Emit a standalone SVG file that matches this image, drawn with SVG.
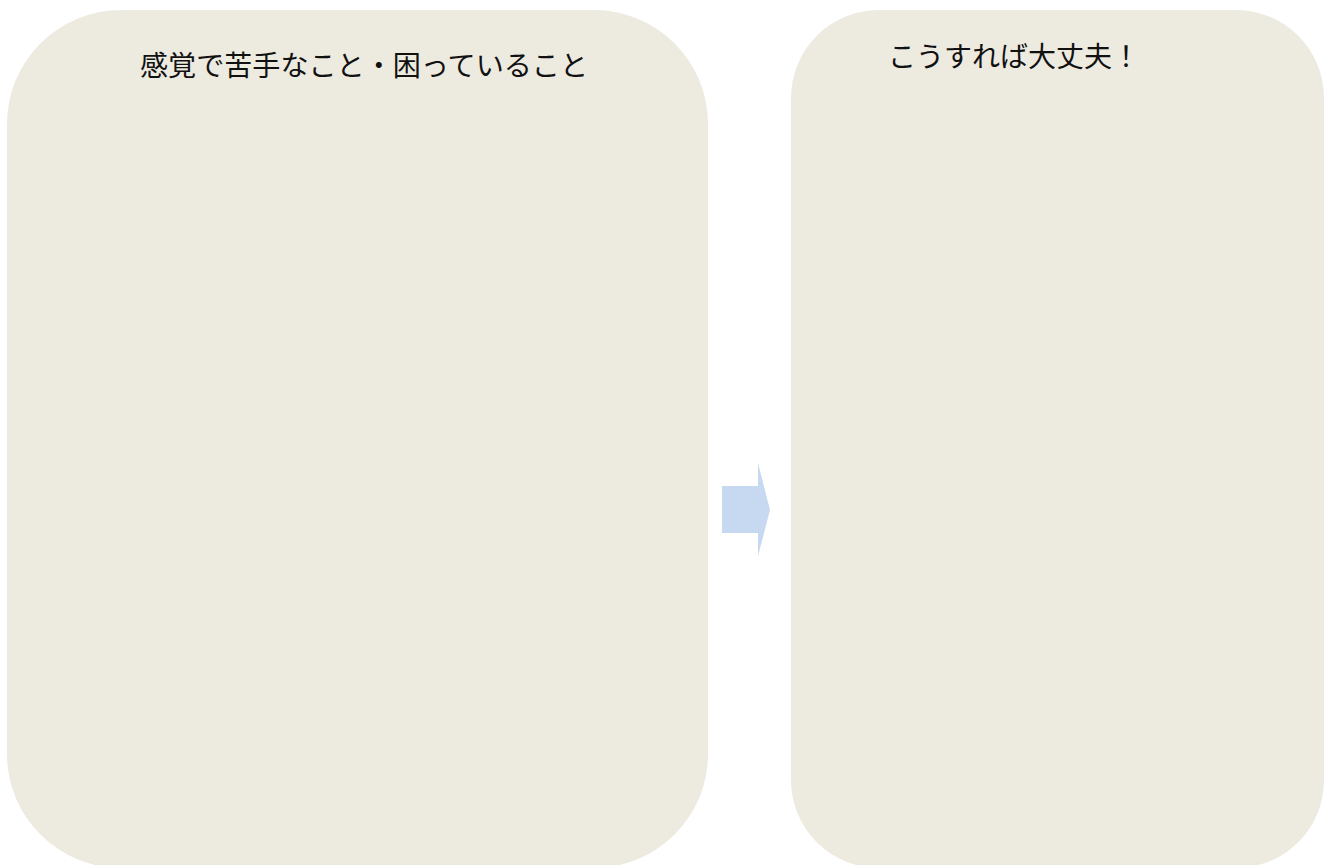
<svg xmlns="http://www.w3.org/2000/svg" width="1327" height="865" viewBox="0 0 1327 865">
<style>
.panel{fill:#edeae0}
.title{font-family:"Noto Sans CJK JP","Noto Sans CJK SC",sans-serif;font-size:28px;fill:#111}
.arrow{fill:#c6d9f1}
</style>
<rect width="1327" height="865" fill="#ffffff"/>
<g id="left-panel">
<rect class="panel" x="7" y="10" width="701" height="858" rx="114" ry="114"/>
<text class="title" x="140" y="76" textLength="448" lengthAdjust="spacingAndGlyphs">感覚で苦手なこと・困っていること</text>
</g>
<g id="right-panel">
<rect class="panel" x="791" y="10" width="533" height="858" rx="88" ry="88"/>
<text class="title" x="888" y="67" textLength="252" lengthAdjust="spacingAndGlyphs">こうすれば大丈夫！</text>
</g>
<g id="connectors">
<polygon class="arrow" points="722,486 758,486 758,463 770,510 758,556 758,533 722,533"/>
</g>
</svg>
